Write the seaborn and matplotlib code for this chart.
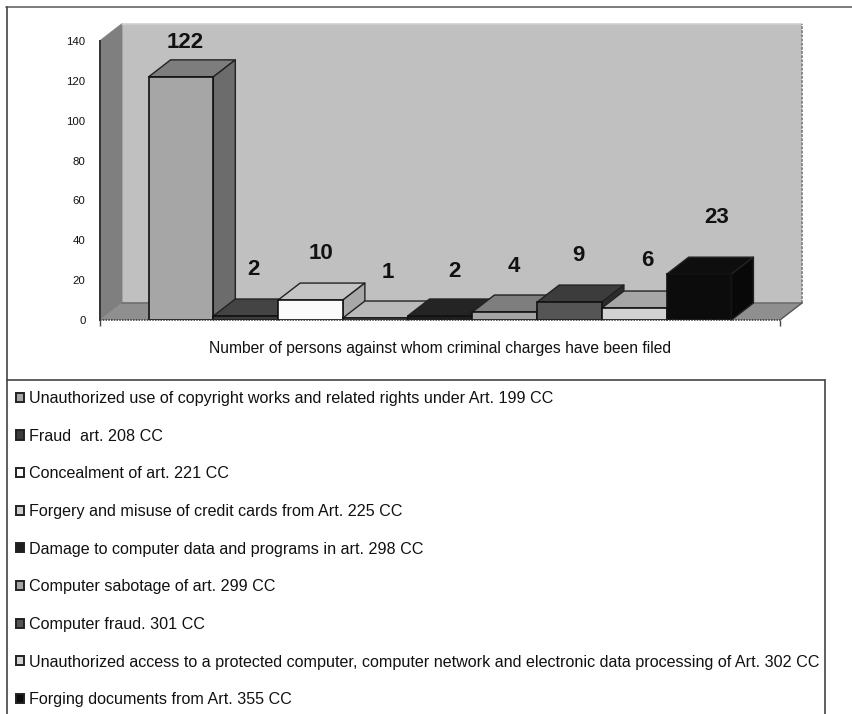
import matplotlib
matplotlib.use("Agg")
import matplotlib.pyplot as plt
import numpy as np
import pandas as pd
import seaborn as sns
from matplotlib.lines import Line2D
from matplotlib.patches import Patch, Polygon

# Offences, in the order they appear along the axis and in the key
offences = [
    "Unauthorized use of copyright works and related rights under Art. 199 CC",
    "Fraud  art. 208 CC",
    "Concealment of art. 221 CC",
    "Forgery and misuse of credit cards from Art. 225 CC",
    "Damage to computer data and programs in art. 298 CC",
    "Computer sabotage of art. 299 CC",
    "Computer fraud. 301 CC",
    "Unauthorized access to a protected computer, computer network and electronic data processing of Art. 302 CC",
    "Forging documents from Art. 355 CC",
]
persons_charged = [122, 2, 10, 1, 2, 4, 9, 6, 23]

front_colours = ["#a6a6a6", "#3c3c3c", "#fbfbfb", "#cfcfcf", "#1e1e1e",
                 "#a4a4a4", "#555555", "#d2d2d2", "#0c0c0c"]
top_colours = ["#7d7d7d", "#444444", "#c4c4c4", "#b9b9b9", "#242424",
               "#7e7e7e", "#3c3c3c", "#a6a6a6", "#0e0e0e"]
side_colours = ["#6c6c6c", "#2a2a2a", "#a8a8a8", "#a0a0a0", "#181818",
                "#6a6a6a", "#2c2c2c", "#8c8c8c", "#080808"]

y_ticks = [0, 20, 40, 60, 80, 100, 120, 140]
axis_title = "Number of persons against whom criminal charges have been filed"

# Canvas layout in pixels
W, H = 852, 714
AX_LEFT, AX_RIGHT, AX_BOTTOM, AX_TOP = 100, 780, 320, 41
DEPTH_PX = (22, -17)
# Pixel nudge of each value label from the top centre of its bar
label_nudge = [(4, -34), (8, -47), (11, -47), (13, -46), (14, -45),
               (9, -46), (9, -47), (13, -48), (18, -57)]

sns.set_theme(style="white")
plt.rcParams["font.family"] = ["Liberation Sans", "DejaVu Sans"]

fig = plt.figure(figsize=(W / 100, H / 100), dpi=100, facecolor="white")
ax = fig.add_axes([AX_LEFT / W, 1 - AX_BOTTOM / H,
                   (AX_RIGHT - AX_LEFT) / W, (AX_BOTTOM - AX_TOP) / H])
ax.patch.set_alpha(0)

table = pd.DataFrame({"offence": offences, "persons": persons_charged})
sns.barplot(data=table, x="offence", y="persons", hue="offence", order=offences,
            hue_order=offences, palette=front_colours, width=1.0, dodge=False,
            legend=False, saturation=1, edgecolor="#111111", linewidth=1.2,
            ax=ax, zorder=5)
ax.set_xlim(-1.25, 9.25)
ax.set_ylim(0, 140)

px_per_x = (AX_RIGHT - AX_LEFT) / 10.5
px_per_y = (AX_BOTTOM - AX_TOP) / 140
dx = DEPTH_PX[0] / px_per_x
dy = -DEPTH_PX[1] / px_per_y


def face(points, colour, z, edge="#222222", lw=1.0):
    ax.add_patch(Polygon(points, closed=True, facecolor=colour, edgecolor=edge,
                         linewidth=lw, clip_on=False, zorder=z, joinstyle="round"))


def wall_line(xs, ys, colour, lw=1.2, style="-"):
    ax.add_line(Line2D(xs, ys, color=colour, linewidth=lw, linestyle=style,
                       clip_on=False, zorder=3))


# Back wall, side wall and floor of the plot box
x0, x1 = ax.get_xlim()
y_wall = 140.2
face([(x0 + dx, dy), (x1 + dx, dy), (x1 + dx, y_wall + dy), (x0 + dx, y_wall + dy)],
     "#c0c0c0", 1, edge="none", lw=0)
face([(x0, 0), (x0 + dx, dy), (x0 + dx, y_wall + dy), (x0, y_wall)],
     "#7f7f7f", 2, edge="#7f7f7f", lw=0.6)
face([(x0, 0), (x1, 0), (x1 + dx, dy), (x0 + dx, dy)],
     "#8f8f8f", 2, edge="none", lw=0)
wall_line([x0 + dx, x1 + dx], [y_wall + dy] * 2, "#cfcfcf")
wall_line([x1 + dx, x1 + dx], [dy, y_wall + dy], "#808080", 1.3, (0, (1.5, 0.8)))
wall_line([x0 + dx, x1 + dx], [dy, dy], "#6e6e6e")
wall_line([x1, x1 + dx], [0, dy], "#555555", 1.0)

# Top and side faces grow out of each drawn bar; later bars overlap earlier ones
for i, bar in enumerate(ax.patches[:len(offences)]):
    left, right = bar.get_x(), bar.get_x() + bar.get_width()
    top = bar.get_height()
    z = 5 + 0.1 * i
    bar.set_zorder(z + 0.05)
    face([(left, top), (right, top), (right + dx, top + dy), (left + dx, top + dy)],
         top_colours[i], z)
    face([(right, 0), (right + dx, dy), (right + dx, top + dy), (right, top)],
         side_colours[i], z)
    nudge_x, nudge_y = label_nudge[i]
    ax.annotate(str(persons_charged[i]), xy=(bar.get_x() + bar.get_width() / 2, top),
                xytext=(nudge_x * 0.72, -nudge_y * 0.72), textcoords="offset points",
                ha="center", va="center", fontsize=16, fontweight="bold",
                color="#111111", annotation_clip=False, zorder=20)

# Axes furniture
for name, spine in ax.spines.items():
    spine.set_visible(name in ("left", "bottom"))
    spine.set_color("#333333")
    spine.set_zorder(30)
ax.spines["left"].set_linewidth(1.4)
ax.spines["bottom"].set_linewidth(1.1)
ax.spines["bottom"].set_linestyle((0, (1, 0.8)))
ax.spines["bottom"].set_capstyle("butt")

ax.set_yticks(y_ticks)
ax.set_xticks([x0, x1], ["", ""])
ax.tick_params(axis="y", length=0, pad=10.5, labelsize=8.2, labelcolor="#111111")
ax.tick_params(axis="x", bottom=True, length=4.5, width=1, color="#444444", pad=0)
ax.set_ylabel("")
ax.set_xlabel(axis_title, fontsize=11.27, color="#111111", labelpad=10.5)

# Key listing every offence with its bar colour
handles = [Patch(facecolor=c, edgecolor="#222222", linewidth=1.4) for c in front_colours]
fig.legend(handles, offences, loc="upper left",
           bbox_to_anchor=(16 / W, 1 - 391 / H), bbox_transform=fig.transFigure,
           frameon=False, fontsize=11.65, ncol=1, borderpad=0, borderaxespad=0,
           handlelength=0.5, handleheight=0.5, handletextpad=0.3,
           labelspacing=1.4, labelcolor="#111111")

# Frame lines around the chart and the key
for xs, ys, colour in [
    ((6, W), (6.5, 6.5), "#666666"),
    ((7, 7), (6.5, H), "#444444"),
    ((7, 825), (380, 380), "#444444"),
    ((825, 825), (380, H), "#444444"),
]:
    fig.add_artist(Line2D(np.array(xs) / W, 1 - np.array(ys) / H, color=colour, linewidth=1.2))

fig.savefig("out.png", dpi=100)
